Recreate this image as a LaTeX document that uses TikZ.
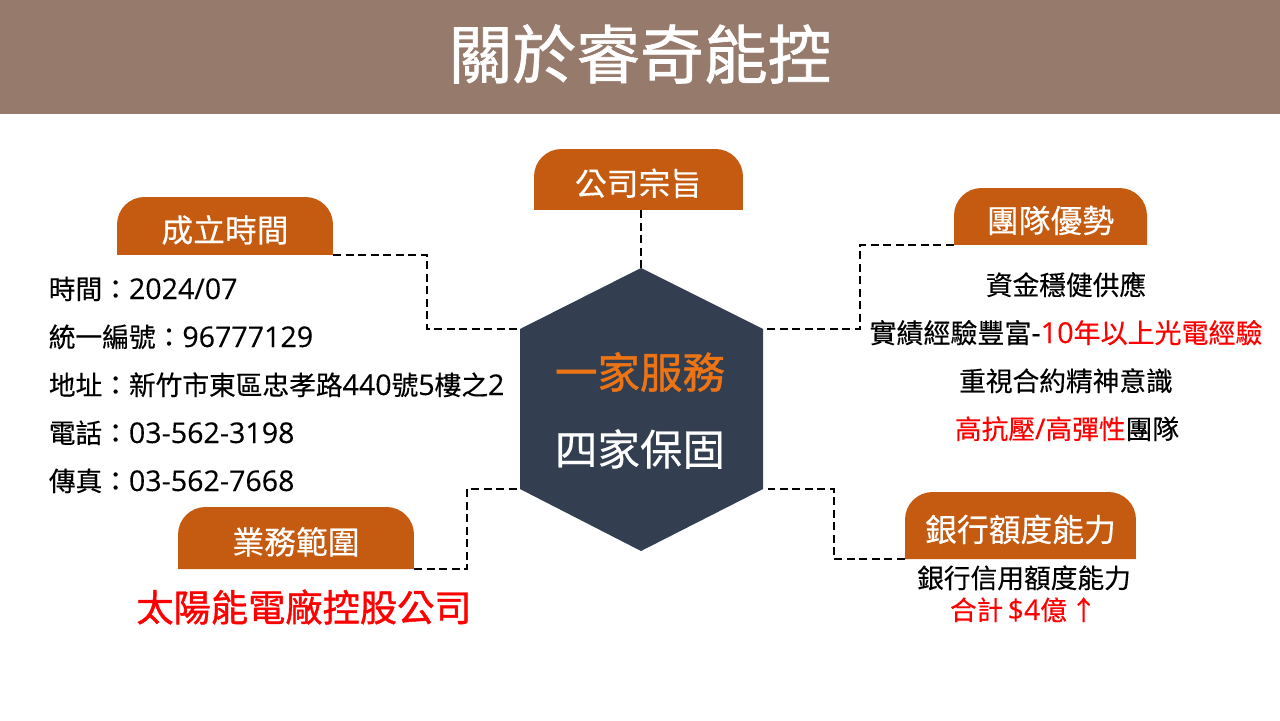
\documentclass[tikz,border=0pt]{standalone}
\usepackage{fontspec}
\setmainfont{Noto Sans CJK TC}[RawFeature={embolden=0.35}]
\newfontfamily\heavycjk{Noto Sans CJK TC}[RawFeature={embolden=1.1}]
\newfontfamily\latfont{Open Sans}[Scale=1.07, RawFeature={embolden=0.2}]
\newcommand{\lat}[1]{{\latfont #1}}
\definecolor{banner}{HTML}{967A6C}
\definecolor{tabfill}{HTML}{C55A11}
\definecolor{hexfill}{HTML}{333F50}
\definecolor{hexhead}{HTML}{ED7414}
\definecolor{alert}{HTML}{FF0000}
\tikzset{
	tabbox/.style={inner sep=0, text=white, text height=0.64cm, text depth=0cm, font=\fontsize{18.1}{20}\selectfont, path picture={
		\fill[tabfill] (path picture bounding box.south west) [rounded corners=0.55cm] -- (path picture bounding box.north west) -- (path picture bounding box.north east) [sharp corners] -- (path picture bounding box.south east) -- cycle;}},
	textline/.style={inner sep=0, anchor=base, font=\fontsize{15.2}{18}\selectfont},
	link/.style={draw, line width=1pt, dash pattern=on 4.5pt off 2.6pt},
}
\begin{document}
\begin{tikzpicture}[x=0.02cm, y=-0.02cm]
	\useasboundingbox (0,0) rectangle (1280,720);
	\fill[banner] (0,0) rectangle (1280,114);
	\node[inner sep=0, text=white, font=\fontsize{36.3}{40}\selectfont\heavycjk] (title) at (640,54) {關於睿奇能控};

	\fill[hexfill] (641,268) -- (763,329) -- (763,489) -- (641,551) -- (520,489) -- (520,329) -- cycle;
	\coordinate (hexT) at (641,268);
	\coordinate (hexUR) at (763,329);
	\coordinate (hexLR) at (763,489);
	\coordinate (hexLL) at (520,489);
	\coordinate (hexUL) at (520,329);
	\node[inner sep=0, text=hexhead, font=\fontsize{24.2}{28}\selectfont\heavycjk] (serve) at (640,372) {一家服務};
	\node[inner sep=0, text=white, font=\fontsize{24.2}{28}\selectfont] (warranty) at (640,449) {四家保固};

	\node[tabbox, minimum width=4.32cm, minimum height=1.16cm] (found) at (225,226) {成立時間};
	\node[tabbox, minimum width=4.18cm, minimum height=1.22cm] (aim) at (638.5,179.5) {公司宗旨};
	\node[tabbox, minimum width=3.86cm, minimum height=1.14cm] (team) at (1050.5,216.5) {團隊優勢};
	\node[tabbox, minimum width=4.62cm, minimum height=1.34cm] (bank) at (1020.5,525.5) {銀行額度能力};
	\node[tabbox, minimum width=4.72cm, minimum height=1.24cm] (biz) at (296,538) {業務範圍};

	\coordinate (foundbend) at (427,292);
	\coordinate (teambend) at (860,287);
	\coordinate (bankbend) at (834,523);
	\coordinate (bizbend) at (467,529);
	\draw[link] (found.south east) -| (foundbend) |- (hexUL);
	\draw[link] (aim.south -| hexT) -- (hexT);
	\draw[link] (team.south west) -| (teambend) |- (hexUR);
	\draw[link] (bank.south west) -| (bankbend) |- (hexLR);
	\draw[link] (biz.south east) -| (bizbend) |- (hexLL);

	\node[textline, anchor=base west] (date) at (48.5,299) {時間：\lat{2024/07}};
	\node[textline, anchor=base west] (taxid) at (48.5,347) {統一編號：\lat{96777129}};
	\node[textline, anchor=base west] (addr) at (48.5,395) {地址：新竹市東區忠孝路\lat{440}號\lat{5}樓之\lat{2}};
	\node[textline, anchor=base west] (tel) at (48.5,443) {電話：\lat{03-562-3198}};
	\node[textline, anchor=base west] (fax) at (48.5,491) {傳真：\lat{03-562-7668}};

	\node[textline] (fund) at (1066,295) {資金穩健供應};
	\node[textline, font=\fontsize{15.35}{18}\selectfont] (record) at (1066,343) {實績經驗豐富\lat{-}\textcolor{alert}{\lat{10}年以上光電經驗}};
	\node[textline] (contract) at (1066,391) {重視合約精神意識};
	\node[textline] (stress) at (1067,439) {\textcolor{alert}{高抗壓\lat{/}高彈性}團隊};

	\node[textline] (credit) at (1024,588) {銀行信用額度能力};
	\node[textline, text=alert] (total) at (1023.5,620) {合計\hspace{-1pt} \lat{\$4}億\hspace{-1.5pt} ↑};

	\node[inner sep=0, text=alert, font=\fontsize{21.2}{24}\selectfont\heavycjk] (solar) at (304,607) {太陽能電廠控股公司};
\end{tikzpicture}
\end{document}
